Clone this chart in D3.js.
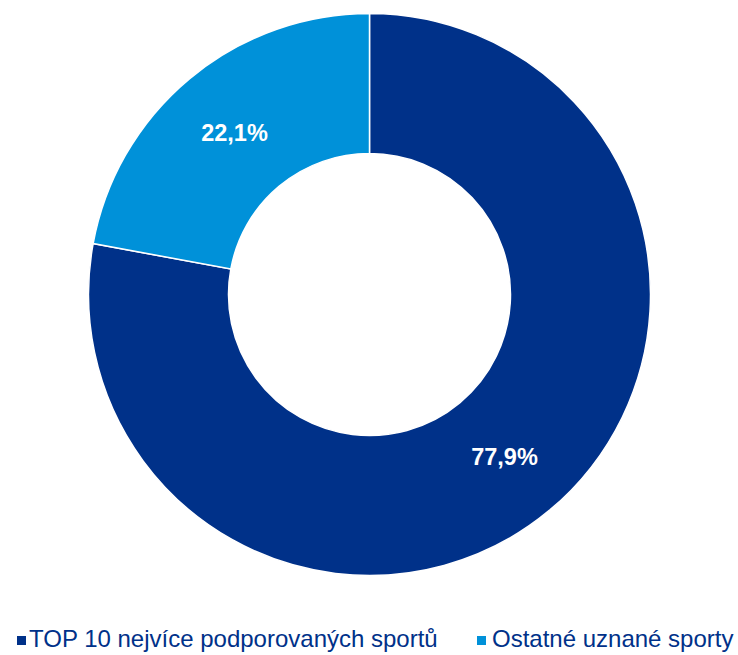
<!DOCTYPE html>
<html>
<head>
<meta charset="utf-8">
<script src="https://cdn.jsdelivr.net/npm/d3@7"></script>
<style>
  html, body { margin: 0; padding: 0; background: #fff; }
  svg { display: block; }
</style>
</head>
<body>
<svg id="chart" width="738" height="655"></svg>
<script>
const categories = ["TOP 10 nejvíce podporovaných sportů", "Ostatné uznané sporty"];
const values = [77.9, 22.1];
const valueLabels = ["77,9%", "22,1%"];
const colors = ["#003189", "#0091D9"];

const svg = d3.select("#chart");
const cx = 369.5, cy = 294.5, outerR = 281, innerR = 141;

const pie = d3.pie().sort(null).value(d => d.value);
const data = categories.map((c, i) => ({ name: c, value: values[i], label: valueLabels[i], color: colors[i] }));
const arcs = pie(data);
const arc = d3.arc().innerRadius(innerR).outerRadius(outerR);

const g = svg.append("g").attr("transform", `translate(${cx},${cy})`);
g.selectAll("path.slice")
  .data(arcs)
  .join("path")
  .attr("class", "slice")
  .attr("d", arc)
  .attr("fill", d => d.data.color)
  .attr("stroke", "#fff")
  .attr("stroke-width", 1.5);

g.selectAll("text.lbl")
  .data(arcs)
  .join("text")
  .attr("class", "lbl")
  .attr("transform", d => `translate(${arc.centroid(d)})`)
  .attr("text-anchor", "middle")
  .attr("dy", "0.35em")
  .attr("fill", "#fff")
  .attr("font-family", "Liberation Sans, Arial, sans-serif")
  .attr("font-weight", "bold")
  .attr("font-size", 23.5)
  .text(d => d.data.label);

// Legend
const legendX = [17, 477];
const legendTextOffset = [12, 15];
const leg = svg.append("g");
const items = leg.selectAll("g.item").data(data).join("g")
  .attr("class", "item")
  .attr("transform", (d, i) => `translate(${legendX[i]},636)`);
items.append("rect").attr("width", 9).attr("height", 9).attr("fill", d => d.color);
items.append("text")
  .attr("x", (d, i) => legendTextOffset[i]).attr("y", 11)
  .attr("fill", "#003189")
  .attr("font-family", "Liberation Sans, Arial, sans-serif")
  .attr("font-size", 24)
  .text(d => d.name);
</script>
</body>
</html>
